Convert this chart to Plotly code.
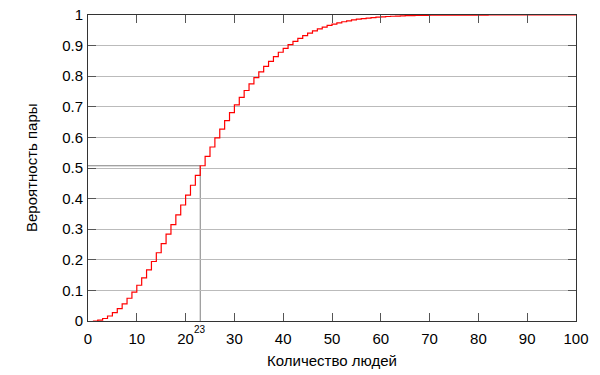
import plotly.graph_objects as go

people = list(range(1, 101))
probability = [
    0.0, 0.0027, 0.0082, 0.0164, 0.0271, 0.0405, 0.0562, 0.0743, 0.0946, 0.1169,
    0.1411, 0.1670, 0.1944, 0.2231, 0.2529, 0.2836, 0.3150, 0.3469, 0.3791, 0.4114,
    0.4437, 0.4757, 0.5073, 0.5383, 0.5687, 0.5982, 0.6269, 0.6545, 0.6810, 0.7063,
    0.7305, 0.7533, 0.7750, 0.7953, 0.8144, 0.8322, 0.8487, 0.8641, 0.8782, 0.8912,
    0.9032, 0.9140, 0.9239, 0.9329, 0.9410, 0.9483, 0.9548, 0.9606, 0.9658, 0.9704,
    0.9744, 0.9780, 0.9811, 0.9839, 0.9863, 0.9883, 0.9901, 0.9917, 0.9930, 0.9941,
    0.9951, 0.9959, 0.9966, 0.9972, 0.9977, 0.9981, 0.9984, 0.9987, 0.9990, 0.9992,
    0.9993, 0.9995, 0.9996, 0.9997, 0.9997, 0.9998, 0.9998, 0.9999, 0.9999, 0.9999,
    0.9999, 1.0, 1.0, 1.0, 1.0, 1.0, 1.0, 1.0, 1.0, 1.0,
    1.0, 1.0, 1.0, 1.0, 1.0, 1.0, 1.0, 1.0, 1.0, 1.0,
]
marked_n = 23
marked_p = probability[people.index(marked_n)]

x_ticks = list(range(0, 101, 10))
y_ticks = [round(i * 0.1, 1) for i in range(11)]
y_tick_labels = ["0", "0.1", "0.2", "0.3", "0.4", "0.5", "0.6", "0.7", "0.8", "0.9", "1"]
x_title = "Количество людей"
y_title = "Вероятность пары"

font_family = "Liberation Sans, Arial, sans-serif"

fig = go.Figure()
fig.add_trace(go.Scatter(
    x=people, y=probability, mode="lines",
    line=dict(color="#ff0000", width=1.2, shape="hv"),
    showlegend=False, hoverinfo="x+y",
))

fig.add_shape(type="line", xref="x", yref="y", x0=marked_n, x1=marked_n, y0=0, y1=marked_p,
              line=dict(color="#808080", width=1), layer="below")
fig.add_shape(type="line", xref="x", yref="y", x0=0, x1=marked_n, y0=marked_p, y1=marked_p,
              line=dict(color="#808080", width=1), layer="below")

fig.add_annotation(x=marked_n, xref="x", y=0, yref="paper", yanchor="top", xanchor="center",
                   yshift=-1, text=str(marked_n), showarrow=False,
                   font=dict(size=10, color="#000000", family=font_family))

# axis titles
fig.add_annotation(x=-0.1168, xref="paper", y=0.5, yref="paper", xanchor="center", yanchor="middle",
                   text=y_title, textangle=-90, showarrow=False,
                   font=dict(size=15, color="#000000", family=font_family))
fig.add_annotation(x=0.5, xref="paper", y=-0.128, yref="paper", xanchor="center", yanchor="middle",
                   text=x_title, showarrow=False,
                   font=dict(size=15, color="#000000", family=font_family))

fig.update_layout(
    width=600, height=375,
    margin=dict(l=88, r=24, t=15, b=54),
    plot_bgcolor="white", paper_bgcolor="white",
    font=dict(family=font_family, size=15, color="#000000"),
    xaxis=dict(
        range=[0, 100], tickmode="array", tickvals=x_ticks, automargin=False,
        ticks="inside", ticklen=8, tickcolor="#555555", ticklabelstandoff=4,
        showline=True, linecolor="#333333", linewidth=1, mirror="ticks",
        showgrid=False, zeroline=False,
        tickfont=dict(size=15),
    ),
    yaxis=dict(
        range=[0, 1], tickmode="array", tickvals=y_ticks, ticktext=y_tick_labels, automargin=False,
        ticks="inside", ticklen=8, tickcolor="#555555", ticklabelstandoff=1,
        showline=True, linecolor="#333333", linewidth=1, mirror="ticks",
        showgrid=True, gridcolor="#bbbbbb", gridwidth=1, zeroline=False,
        tickfont=dict(size=15),
    ),
)

fig.write_html("out.html", config={"displayModeBar": False},
               post_script="document.body.style.margin='0';")
